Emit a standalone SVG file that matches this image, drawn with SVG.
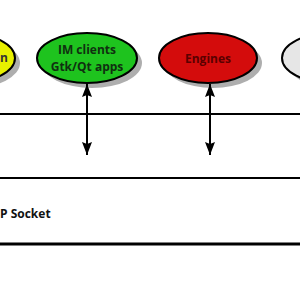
<svg xmlns="http://www.w3.org/2000/svg" width="300" height="300" viewBox="0 0 300 300">
<defs>
<style>
.shadow{fill:#9a9a9a;opacity:0.8}
.node{stroke:#000;stroke-width:2}
.lbl{font-family:"Open Sans","Liberation Sans",sans-serif;font-weight:bold;font-size:12px;text-anchor:middle}
.line{stroke:#000;stroke-width:2;fill:none}
.conn{stroke:#000;stroke-width:2;fill:none;marker-start:url(#ah);marker-end:url(#ah)}
</style>
<marker id="ah" viewBox="0 0 13 10" refX="13" refY="5" markerWidth="13" markerHeight="10" orient="auto-start-reverse" markerUnits="userSpaceOnUse">
<path d="M0,0 L13,5 L0,10 L2,5 z" fill="#000"/>
</marker>
</defs>
<rect width="300" height="300" fill="#fff"/>
<g id="yellow-node">
<ellipse class="shadow" cx="-29" cy="63" rx="49" ry="25"/>
<ellipse class="node" cx="-34" cy="58" rx="49" ry="25" fill="#e8f000"/>
<text class="lbl" x="4" y="62" fill="#333">n</text>
</g>
<g id="im-clients">
<ellipse class="shadow" cx="92" cy="63" rx="50" ry="25"/>
<ellipse class="node" cx="87" cy="58" rx="50" ry="25" fill="#1ec31e"/>
<text class="lbl" x="87" y="54" fill="#103010">IM clients</text>
<text class="lbl" x="87" y="70.5" fill="#103010">Gtk/Qt apps</text>
</g>
<g id="engines">
<ellipse class="shadow" cx="213" cy="63" rx="49" ry="25"/>
<ellipse class="node" cx="208" cy="58" rx="49" ry="25" fill="#d40c0c"/>
<text class="lbl" x="208" y="63" fill="#5a0000">Engines</text>
</g>
<g id="gray-node">
<ellipse class="shadow" cx="336" cy="63" rx="49" ry="25"/>
<ellipse class="node" cx="331" cy="58" rx="49" ry="25" fill="#e6e6e6"/>
</g>
<g id="layers">
<line class="line" x1="0" y1="114" x2="300" y2="114"/>
<line class="line" x1="0" y1="178" x2="300" y2="178"/>
<line x1="0" y1="244" x2="300" y2="244" stroke="#000" stroke-width="3"/>
<text x="0" y="218" font-family="'Open Sans','Liberation Sans',sans-serif" font-weight="bold" font-size="12" fill="#111">P Socket</text>
</g>
<g id="connectors">
<line class="conn" x1="87" y1="84" x2="87" y2="155"/>
<line class="conn" x1="210" y1="84" x2="210" y2="155"/>
</g>
</svg>
